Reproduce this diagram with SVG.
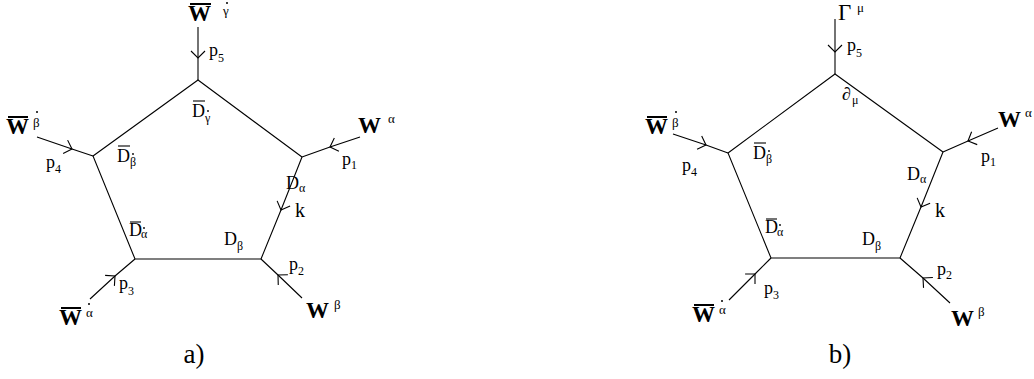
<svg xmlns="http://www.w3.org/2000/svg" width="1034" height="379" viewBox="0 0 1034 379">
<style>
.e{stroke:#000;stroke-width:1.1;fill:none}
.m{marker-mid:url(#ch)}
text{font-family:"Liberation Serif","Times New Roman",serif;fill:#000}
.W{font-size:23px;font-weight:bold}
.G{font-size:23px}
.D{font-size:18px}
.p{font-size:18px}
.k{font-size:20px}
.s{font-size:12px;font-weight:normal}
.g{font-size:13px;font-weight:normal}
.lab{font-size:27px;text-anchor:middle}
.bw{stroke:#000;stroke-width:2}
.bd{stroke:#000;stroke-width:1.1}
.dt{fill:#000}
</style>
<defs>
<marker id="ch" markerUnits="userSpaceOnUse" markerWidth="20" markerHeight="20" viewBox="0 0 20 20" refX="10" refY="10" orient="auto">
<path d="M3 3 L10 10 L3 17" fill="none" stroke="#000" stroke-width="1.1"/>
</marker>
</defs>
<rect width="1034" height="379" fill="#fff"/>

<g id="connectors">
<polyline class="e" points="302,157 198,80 93,156 135,259 261,259"/>
<polyline class="e m" points="302,157 281,210 261,259"/>
<polyline class="e m" points="198,27 198,58 198,80"/>
<polyline class="e m" points="37,137 72,149 93,156"/>
<polyline class="e m" points="360,137 330,147 302,157"/>
<polyline class="e m" points="90,299 115,276 135,259"/>
<polyline class="e m" points="302,298 278,275 261,259"/>

<polyline class="e" points="943,152 835,74 728,153 771,258 900,258"/>
<polyline class="e m" points="943,152 921,207 900,258"/>
<polyline class="e m" points="835,19 835,52 835,74"/>
<polyline class="e m" points="673,134 706,145 728,153"/>
<polyline class="e m" points="998,128 968,141 943,152"/>
<polyline class="e m" points="729,300 755,274 771,258"/>
<polyline class="e m" points="950,303 923,278 900,258"/>
</g>

<!-- diagram a -->
<g id="a-W5">
<line class="bw" x1="190" y1="4" x2="211" y2="4"/>
<text class="W" x="188" y="21">W<tspan class="g" x="223" y="15">γ</tspan></text>
<circle class="dt" cx="227" cy="3" r="1"/>
</g>
<g id="a-p5"><text class="p" x="209" y="56">p<tspan class="s" x="218" y="62">5</tspan></text></g>
<g id="a-W4">
<line class="bw" x1="8" y1="117" x2="28" y2="117"/>
<text class="W" x="6" y="134">W<tspan class="g" x="33" y="127">β</tspan></text>
<circle class="dt" cx="37" cy="112" r="1"/>
</g>
<g id="a-p4"><text class="p" x="46" y="168">p<tspan class="s" x="55" y="173">4</tspan></text></g>
<g id="a-W1">
<text class="W" x="358" y="133">W<tspan class="g" x="388" y="123">α</tspan></text>
</g>
<g id="a-p1"><text class="p" x="342" y="165">p<tspan class="s" x="351" y="169">1</tspan></text></g>
<g id="a-W2">
<text class="W" x="306" y="318">W<tspan class="g" x="334" y="309">β</tspan></text>
</g>
<g id="a-p2"><text class="p" x="289" y="270">p<tspan class="s" x="298" y="275">2</tspan></text></g>
<g id="a-W3">
<line class="bw" x1="61" y1="308" x2="81" y2="308"/>
<text class="W" x="59" y="325">W<tspan class="g" x="86" y="317">α</tspan></text>
<circle class="dt" cx="89" cy="304" r="1"/>
</g>
<g id="a-p3"><text class="p" x="119" y="289">p<tspan class="s" x="128" y="295">3</tspan></text></g>
<g id="a-k"><text class="k" x="295" y="217">k</text></g>
<g id="a-Dg">
<line class="bd" x1="193" y1="101" x2="205" y2="101"/>
<text class="D" x="192" y="117">D<tspan class="s" x="205" y="122">γ</tspan></text>
<circle class="dt" cx="208" cy="111" r="0.9"/>
</g>
<g id="a-Db">
<line class="bd" x1="118" y1="146" x2="130" y2="146"/>
<text class="D" x="117" y="162">D<tspan class="s" x="130" y="166">β</tspan></text>
<circle class="dt" cx="133" cy="154" r="0.9"/>
</g>
<g id="a-Da">
<text class="D" x="286" y="189">D<tspan class="s" x="299" y="192">α</tspan></text>
</g>
<g id="a-Dad">
<line class="bd" x1="130" y1="222" x2="141" y2="222"/>
<text class="D" x="129" y="236">D<tspan class="s" x="141" y="238">α</tspan></text>
<circle class="dt" cx="144" cy="228" r="0.9"/>
</g>
<g id="a-Dbeta">
<text class="D" x="224" y="245">D<tspan class="s" x="237" y="250">β</tspan></text>
</g>
<g id="a-label"><text class="lab" x="194" y="363">a)</text></g>

<!-- diagram b -->
<g id="b-G">
<text class="G" x="838" y="20">Γ<tspan class="g" x="857" y="12">μ</tspan></text>
</g>
<g id="b-p5"><text class="p" x="847" y="51">p<tspan class="s" x="856" y="57">5</tspan></text></g>
<g id="b-d"><text class="D" x="842" y="100">∂<tspan class="s" x="852" y="104">μ</tspan></text></g>
<g id="b-W4">
<line class="bw" x1="647" y1="117" x2="667" y2="117"/>
<text class="W" x="645" y="134">W<tspan class="g" x="672" y="127">β</tspan></text>
<circle class="dt" cx="676" cy="112" r="1"/>
</g>
<g id="b-p4"><text class="p" x="682" y="171">p<tspan class="s" x="691" y="176">4</tspan></text></g>
<g id="b-Db">
<line class="bd" x1="754" y1="143" x2="766" y2="143"/>
<text class="D" x="753" y="159">D<tspan class="s" x="766" y="163">β</tspan></text>
<circle class="dt" cx="769" cy="151" r="0.9"/>
</g>
<g id="b-W1">
<text class="W" x="998" y="127">W<tspan class="g" x="1025" y="117">α</tspan></text>
</g>
<g id="b-p1"><text class="p" x="981" y="162">p<tspan class="s" x="990" y="166">1</tspan></text></g>
<g id="b-Da">
<text class="D" x="907" y="180">D<tspan class="s" x="920" y="183">α</tspan></text>
</g>
<g id="b-k"><text class="k" x="935" y="217">k</text></g>
<g id="b-Dad">
<line class="bd" x1="766" y1="219" x2="777" y2="219"/>
<text class="D" x="765" y="233">D<tspan class="s" x="777" y="236">α</tspan></text>
<circle class="dt" cx="780" cy="225" r="0.9"/>
</g>
<g id="b-Dbeta">
<text class="D" x="862" y="245">D<tspan class="s" x="875" y="250">β</tspan></text>
</g>
<g id="b-p3"><text class="p" x="764" y="294">p<tspan class="s" x="773" y="299">3</tspan></text></g>
<g id="b-W3">
<line class="bw" x1="694" y1="305" x2="714" y2="305"/>
<text class="W" x="692" y="322">W<tspan class="g" x="719" y="314">α</tspan></text>
<circle class="dt" cx="722" cy="301" r="1"/>
</g>
<g id="b-p2"><text class="p" x="937" y="275">p<tspan class="s" x="946" y="279">2</tspan></text></g>
<g id="b-W2">
<text class="W" x="951" y="326">W<tspan class="g" x="978" y="316">β</tspan></text>
</g>
<g id="b-label"><text class="lab" x="840" y="363">b)</text></g>
</svg>
